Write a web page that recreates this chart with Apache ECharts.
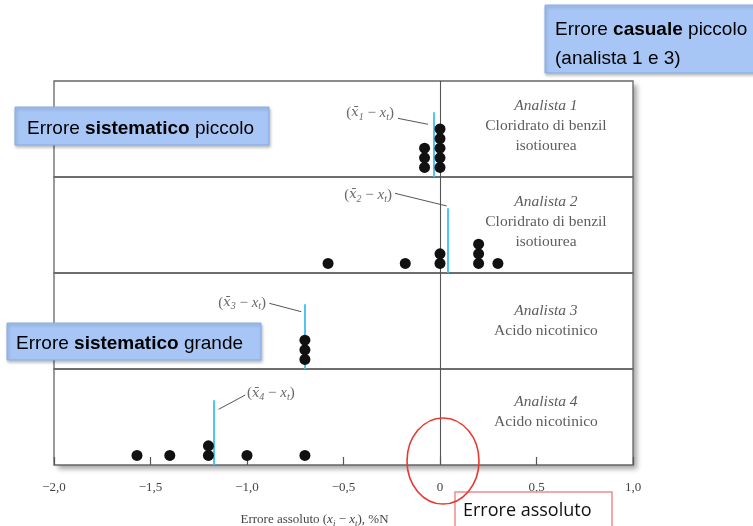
<!DOCTYPE html>
<html>
<head>
<meta charset="utf-8">
<script src="https://cdn.jsdelivr.net/npm/echarts@6/dist/echarts.min.js"></script>
<style>html,body{margin:0;padding:0;background:#fff}#c{width:753px;height:526px}</style>
</head>
<body>
<div id="c"></div>
<script>
// ---- data ----
const xTickLabels = ['\u22122,0', '\u22121,5', '\u22121,0', '\u22120,5', '0', '0,5', '1,0'];
const analista1 = [-0.08, -0.08, -0.08, 0, 0, 0, 0, 0];
const analista2 = [-0.58, -0.18, 0, 0, 0.2, 0.2, 0.2, 0.3];
const analista3 = [-0.7, -0.7, -0.7];
const analista4 = [-1.57, -1.4, -1.2, -1.2, -1.0, -0.7];
const means = [-0.03, 0.04, -0.7, -1.17];
const panelTitles = ['Analista 1', 'Analista 2', 'Analista 3', 'Analista 4'];
const panelSubtitles = [
  ['Cloridrato di benzil', 'isotiourea'],
  ['Cloridrato di benzil', 'isotiourea'],
  ['Acido nicotinico'],
  ['Acido nicotinico']
];
const meanLabelIdx = ['1', '2', '3', '4'];
// annotation anchors in data coordinates [x, y] per panel
const meanLabelPos = [[-0.233, 5.67], [-0.244, 7.125], [-0.896, 5.91], [-1.005, 6.47]];
const leaderFrom = [[-0.218, 5.11], [-0.233, 7.30], [-0.884, 5.84], [-1.147, 4.80]];
const leaderTo = [[-0.062, 4.49], [0.035, 5.98], [-0.719, 4.97], [-1.009, 6.29]];
const panelTextPos = [[0.549, 4.31], [0.549, 4.31], [0.549, 4.0], [0.549, 4.57]];

// ---- layout ----
const panels = [analista1, analista2, analista3, analista4];
const gridTops = [81, 177, 273, 369];
const gridH = 96;
const gridLeft = 54, gridRight = 120;
const meanTop = 5.75;

const serif = '"Liberation Serif", "DejaVu Serif", serif';
const sans = '"Liberation Sans", Arial, sans-serif';

function stackLevels(vals) {
  const seen = {};
  return vals.map(v => {
    const k = String(v);
    seen[k] = (seen[k] || 0);
    const lvl = seen[k];
    seen[k] += 1;
    return [v, lvl];
  });
}

const subRich = {
  p: { fontFamily: serif, fontSize: 15, color: '#444', lineHeight: 18 },
  v: { fontFamily: serif, fontStyle: 'italic', fontSize: 15, color: '#444', lineHeight: 18 },
  m: { fontFamily: '"DejaVu Serif", serif', fontStyle: 'italic', fontSize: 13, color: '#444', lineHeight: 18 },
  s: { fontFamily: serif, fontStyle: 'italic', fontSize: 10, color: '#444', lineHeight: 18, verticalAlign: 'bottom', padding: [6, 0, 0, 0] }
};

const grids = [], xAxes = [], yAxes = [], series = [];
panels.forEach((vals, i) => {
  grids.push({
    left: gridLeft, right: gridRight, top: gridTops[i], height: gridH,
    outerBoundsMode: 'none', containLabel: false,
    show: true, borderColor: '#666', borderWidth: 1.3, backgroundColor: 'transparent'
  });
  const last = i === panels.length - 1;
  xAxes.push({
    gridIndex: i, type: 'value', min: -2, max: 1, interval: 0.5,
    axisLine: { show: false, onZero: false },
    axisTick: { show: last, inside: true, length: 8, lineStyle: { color: '#555', width: 1.2 } },
    axisLabel: {
      show: last, margin: 16, color: '#444', fontFamily: serif, fontSize: 13,
      formatter: (v) => xTickLabels[Math.round((v + 2) / 0.5)]
    },
    splitLine: { show: false },
    name: last ? '{n|Errore assoluto (}{v|x}{s|i}{n| \u2212 }{v|x}{s|t}{n|), %N}' : '',
    nameLocation: 'middle', nameGap: 47,
    nameTextStyle: {
      padding: [0, 58, 0, 0],
      rich: {
        n: { fontFamily: serif, fontSize: 13, color: '#444', lineHeight: 16 },
        v: { fontFamily: serif, fontStyle: 'italic', fontSize: 13, color: '#444', lineHeight: 16 },
        s: { fontFamily: serif, fontStyle: 'italic', fontSize: 9, color: '#444', lineHeight: 16, verticalAlign: 'bottom', padding: [5, 0, 0, 0] }
      }
    }
  });
  yAxes.push({ gridIndex: i, type: 'value', min: -1, max: 9, show: false });

  const subs = panelSubtitles[i].map(s => '{n|' + s + '}').join('\n');
  series.push({
    type: 'scatter', xAxisIndex: i, yAxisIndex: i,
    symbol: 'circle', symbolSize: 11,
    itemStyle: { color: '#111', opacity: 1 }, z: 5, silent: true,
    data: stackLevels(vals),
    markLine: {
      silent: true, symbol: ['none', 'none'], animation: false,
      label: { show: false },
      data: [
        { xAxis: 0, lineStyle: { color: '#555', width: 1.1, type: 'solid' } },
        [
          { coord: [means[i], -1], lineStyle: { color: '#3cc0f0', width: 1.8, type: 'solid' } },
          { coord: [means[i], meanTop] }
        ],
        [
          { coord: leaderFrom[i], lineStyle: { color: '#555', width: 1, type: 'solid' } },
          { coord: leaderTo[i] }
        ]
      ]
    }
  });
  series.push({
    type: 'scatter', xAxisIndex: i, yAxisIndex: i, symbolSize: 0, silent: true, z: 6,
    data: [meanLabelPos[i]],
    label: {
      show: true, position: i === 3 ? 'right' : 'left', distance: 1,
      formatter: '{p|(}{m|x\u0304}{s|' + meanLabelIdx[i] + '}{p| \u2212 }{v|x}{s|t}{p|)}',
      rich: subRich
    }
  });
  series.push({
    type: 'scatter', xAxisIndex: i, yAxisIndex: i, symbolSize: 0, silent: true, z: 6,
    data: [panelTextPos[i]],
    label: {
      show: true, position: 'inside', align: 'center', verticalAlign: 'middle',
      formatter: '{t|' + panelTitles[i] + '}\n' + subs,
      rich: {
        t: { fontFamily: serif, fontStyle: 'italic', fontSize: 15.5, color: '#333', lineHeight: 20, align: 'center' },
        n: { fontFamily: serif, fontSize: 15.5, color: '#333', lineHeight: 20, align: 'center' }
      }
    }
  });
});

const boxRich = {
  n: { fontFamily: sans, fontSize: 19, color: '#1a1a1a', lineHeight: 29 },
  b: { fontFamily: sans, fontSize: 19, fontWeight: 'bold', color: '#1a1a1a', lineHeight: 29 }
};
const boxFill = '#a7c6f5', boxStroke = '#86acea';

const graphic = [
  { type: 'rect', z: -10, shape: { x: 54, y: 81, width: 579, height: 384 },
    style: { fill: '#fff', shadowBlur: 5, shadowOffsetX: 4, shadowOffsetY: 4, shadowColor: 'rgba(0,0,0,0.35)' } },
  { type: 'rect', z: 100, shape: { x: 545, y: 5, width: 220, height: 68 },
    style: { fill: boxFill, stroke: boxStroke, lineWidth: 1, shadowBlur: 3, shadowOffsetX: 1, shadowOffsetY: 2, shadowColor: 'rgba(0,0,0,0.25)' } },
  { type: 'text', z: 101, left: 555, top: 20,
    style: { text: '{n|Errore }{b|casuale}{n| piccolo}\n{n|(analista 1 e 3)}', rich: boxRich } },
  { type: 'rect', z: 100, shape: { x: 15, y: 107, width: 254, height: 38 },
    style: { fill: boxFill, stroke: boxStroke, lineWidth: 1, shadowBlur: 3, shadowOffsetX: 1, shadowOffsetY: 2, shadowColor: 'rgba(0,0,0,0.25)' } },
  { type: 'text', z: 101, left: 27, top: 119,
    style: { text: '{n|Errore }{b|sistematico}{n| piccolo}', rich: boxRich } },
  { type: 'rect', z: 100, shape: { x: 7, y: 323, width: 254, height: 37 },
    style: { fill: boxFill, stroke: boxStroke, lineWidth: 1, shadowBlur: 3, shadowOffsetX: 1, shadowOffsetY: 2, shadowColor: 'rgba(0,0,0,0.25)' } },
  { type: 'text', z: 101, left: 16, top: 334,
    style: { text: '{n|Errore }{b|sistematico}{n| grande}', rich: boxRich } },
  { type: 'rect', z: 100, shape: { x: 455, y: 492, width: 157, height: 40 },
    style: { fill: '#fff', stroke: '#f08a8a', lineWidth: 1.5 } },
  { type: 'text', z: 101, left: 463, top: 502,
    style: { text: 'Errore assoluto', font: '18px "Open Sans", sans-serif', fill: '#111' } },
  { type: 'ellipse', z: 102, shape: { cx: 443, cy: 461, rx: 36, ry: 43 },
    style: { fill: 'none', stroke: '#e53b35', lineWidth: 1.6 } }
];

const chart = echarts.init(document.getElementById('c'), null, { renderer: 'canvas' });
chart.setOption({
  animation: false,
  backgroundColor: '#fff',
  grid: grids, xAxis: xAxes, yAxis: yAxes, series: series, graphic: graphic
});
</script>
</body>
</html>
